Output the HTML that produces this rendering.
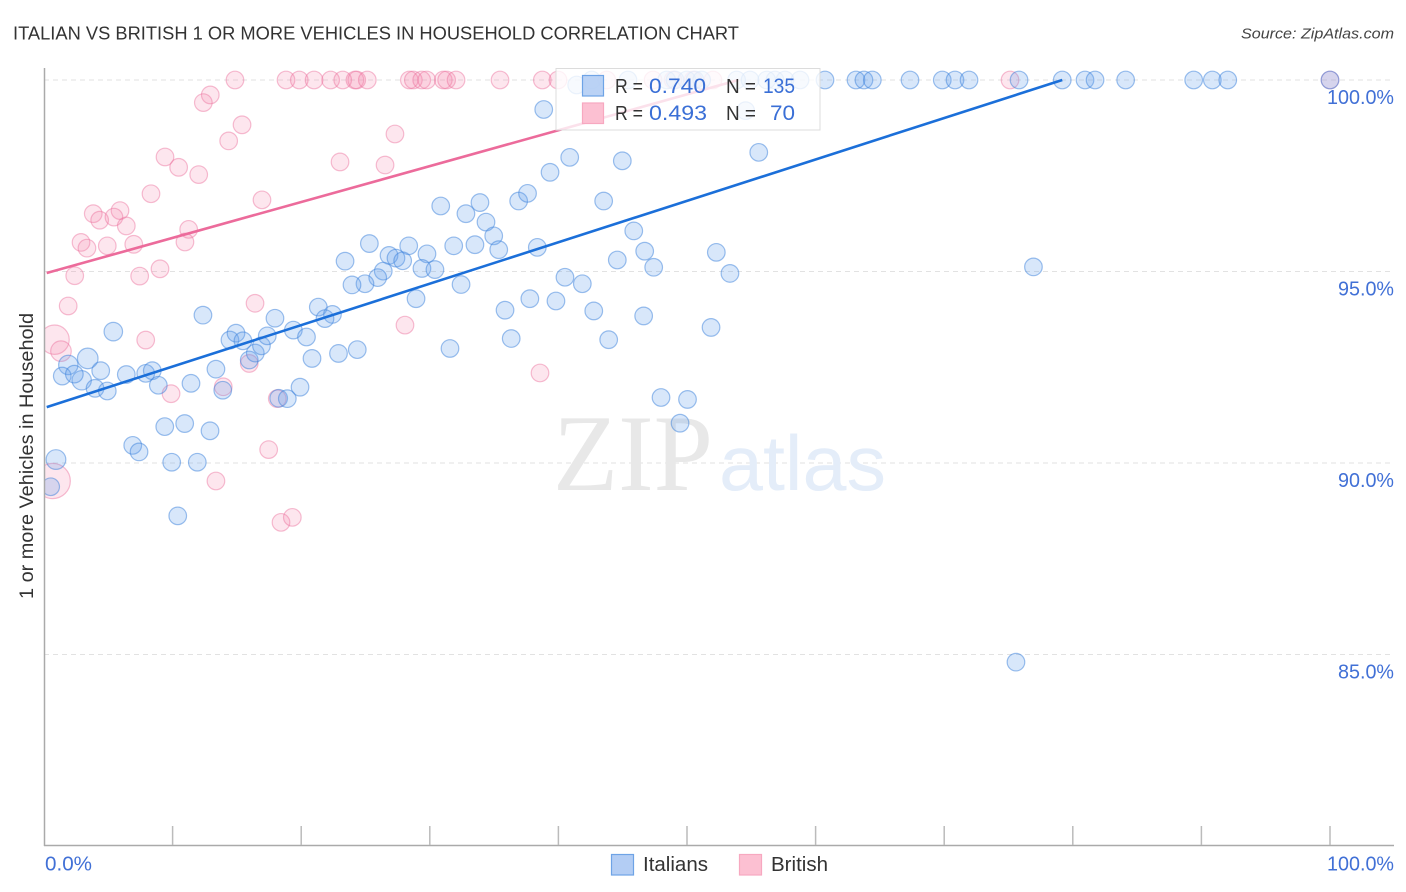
<!DOCTYPE html>
<html>
<head>
<meta charset="utf-8">
<title>Italian vs British 1 or more Vehicles in Household Correlation Chart</title>
<style>
html,body{margin:0;padding:0;background:#fff;}
svg{display:block;font-family:"Liberation Sans",sans-serif;}
</style>
</head>
<body>
<svg id="chart" xmlns="http://www.w3.org/2000/svg" width="1406" height="892" viewBox="0 0 1406 892">
  <defs>
    <clipPath id="plot-clip"><rect x="45" y="60" width="1355" height="786"/></clipPath>
  </defs>
  <text x="13" y="39.5" font-size="18" fill="#333" textLength="726" lengthAdjust="spacingAndGlyphs">ITALIAN VS BRITISH 1 OR MORE VEHICLES IN HOUSEHOLD CORRELATION CHART</text>
  <text x="1241" y="38.5" font-size="15" font-style="italic" fill="#444" textLength="153" lengthAdjust="spacingAndGlyphs">Source: ZipAtlas.com</text>
  <text transform="translate(33,456) rotate(-90)" text-anchor="middle" font-size="19" fill="#333" textLength="286" lengthAdjust="spacingAndGlyphs">1 or more Vehicles in Household</text>

  <g id="grid"></g>

  <g>
    <text x="553" y="490" font-family="'Liberation Serif',serif" font-size="109" fill="#e8e8e8" textLength="160" lengthAdjust="spacingAndGlyphs">ZIP</text>
    <text x="719" y="490" font-size="78" fill="#e4edf9" textLength="167" lengthAdjust="spacingAndGlyphs">atlas</text>
  </g>

  <g id="points" clip-path="url(#plot-clip)"></g>
  <g id="trends"></g>
  <g id="axes"></g>

  <g>
    <rect x="556" y="68.5" width="264" height="61.5" fill="#fff" fill-opacity="0.8" stroke="#dcdcdc" stroke-width="1"/>
    <rect x="582.5" y="75.5" width="21" height="20.5" fill="#b3cdf4" fill-opacity="0.9" stroke="#6ea3e6" stroke-width="1.2"/>
    <rect x="582.5" y="103" width="21" height="20.5" fill="#fcc0d2" stroke="#f7a8c0" stroke-width="1.2"/>
    <text x="615" y="93" font-size="20" fill="#333" textLength="28" lengthAdjust="spacingAndGlyphs">R =</text>
    <text x="649" y="93" font-size="21" fill="#3a6fd6" textLength="57" lengthAdjust="spacingAndGlyphs">0.740</text>
    <text x="726" y="93" font-size="20" fill="#333" textLength="30" lengthAdjust="spacingAndGlyphs">N =</text>
    <text x="763" y="93" font-size="21" fill="#3a6fd6" textLength="32" lengthAdjust="spacingAndGlyphs">135</text>
    <text x="615" y="120" font-size="20" fill="#333" textLength="28" lengthAdjust="spacingAndGlyphs">R =</text>
    <text x="649" y="120" font-size="21" fill="#3a6fd6" textLength="58" lengthAdjust="spacingAndGlyphs">0.493</text>
    <text x="726" y="120" font-size="20" fill="#333" textLength="30" lengthAdjust="spacingAndGlyphs">N =</text>
    <text x="770" y="120" font-size="21" fill="#3a6fd6" textLength="25" lengthAdjust="spacingAndGlyphs">70</text>
  </g>

  <g>
    <rect x="611.5" y="854.5" width="22" height="20.5" fill="#b3cdf4" stroke="#6ea3e6" stroke-width="1.2"/>
    <text x="643" y="871" font-size="20" fill="#333" textLength="65" lengthAdjust="spacingAndGlyphs">Italians</text>
    <rect x="739.5" y="854.5" width="22" height="20.5" fill="#fcc0d2" stroke="#f7a8c0" stroke-width="1.2"/>
    <text x="771" y="871" font-size="20" fill="#333" textLength="57" lengthAdjust="spacingAndGlyphs">British</text>
  </g>
</svg>

<script>
const xTickValues = [0, 10, 20, 30, 40, 50, 60, 70, 80, 90, 100];
const xTickLabelValues = [0, 100];
const yTickValues = [85, 90, 95, 100];

const italianX = [1.89,3.40,2.93,0.93,5.39,12.36,1.42,2.36,4.41,3.97,4.92,6.40,7.91,8.42,8.89,11.43,13.37,13.90,14.46,14.93,15.47,15.96,16.43,16.91,17.36,17.96,19.39,20.41,19.91,18.25,18.92,20.84,9.39,10.94,12.91,6.90,7.39,9.93,11.92,10.40,0.52,30.85,32.81,33.90,34.37,34.97,35.36,33.51,31.86,29.78,28.36,25.30,23.41,26.83,27.37,27.89,26.38,25.95,24.96,23.95,29.39,30.40,32.43,28.93,21.33,22.43,21.85,22.90,24.36,31.57,35.85,37.78,39.81,40.51,38.36,36.91,37.60,36.33,38.86,40.88,39.35,44.97,43.52,55.58,45.86,46.71,44.58,47.41,52.28,53.34,41.86,42.75,43.91,46.63,51.87,54.56,76.94,75.58,47.98,50.04,49.46,41.42,42.59,45.41,48.42,49.07,49.98,50.62,51.14,53.86,54.90,56.20,56.84,57.62,58.79,60.73,63.14,63.76,64.41,67.34,69.85,70.84,71.93,75.82,79.18,80.95,81.73,84.11,89.40,90.85,92.05,100];
const italianY = [92.56,92.73,92.16,90.09,93.43,93.86,92.27,92.32,92.41,91.95,91.88,92.31,92.34,92.41,92.03,92.08,92.45,91.90,93.21,93.39,93.19,92.69,92.87,93.06,93.32,93.78,93.47,93.29,91.98,91.69,91.68,92.73,90.95,91.03,90.84,90.46,90.29,90.02,90.02,88.62,89.38,96.71,96.51,96.80,96.29,95.93,95.57,95.70,95.67,95.46,95.67,95.73,95.27,95.42,95.35,95.28,95.01,94.84,94.68,94.65,95.08,95.05,94.66,94.29,94.07,93.88,93.77,92.86,92.96,92.99,93.99,94.29,94.23,94.85,95.63,96.84,97.04,93.25,99.23,97.98,97.59,97.89,96.84,98.11,96.06,95.53,95.30,95.11,95.50,94.95,94.68,93.97,93.22,93.84,93.54,99.20,95.12,84.80,91.71,91.66,91.04,99.87,100,100,100,100,100,100,100,100,100,100,100,100,100,100,100,100,100,100,100,100,100,100,100,100,100,100,100,100,100,100];
const italianWeight = [1.1,1.17,1.1,1.12,1.05];

const britishX = [0.82,1.32,0.68,12.93,12.39,15.40,14.36,9.41,10.47,12.03,8.32,16.95,5.91,3.83,4.33,5.44,6.40,11.25,10.96,2.88,3.34,4.92,6.98,2.39,7.44,9.02,1.88,16.41,27.29,23.02,26.52,28.07,38.57,7.91,9.88,13.94,15.96,18.14,17.47,13.37,18.43,19.31,14.85,18.82,19.85,21.00,22.29,23.23,24.18,24.32,25.14,28.41,28.72,29.37,29.76,31.05,31.31,32.04,35.46,38.75,39.97,43.76,47.36,48.91,50.47,52.02,75.12,100];
const britishY = [93.22,92.92,89.53,99.61,99.41,98.83,98.41,97.99,97.72,97.53,97.03,96.87,96.59,96.51,96.34,96.42,96.19,96.10,95.77,95.76,95.61,95.67,95.71,94.89,94.88,95.07,94.10,94.17,98.59,97.86,97.78,93.60,92.35,93.21,91.81,91.99,92.60,91.68,90.35,89.53,88.45,88.58,100,100,100,100,100,100,100,100,100,100,100,100,100,100,100,100,100,100,100,100,100,100,100,100,100,100];
const britishWeight = [1.67,1.17,2.0];

const italianTrendX = [0.21, 79.18];
const italianTrendY = [91.46, 100];
const britishTrendX = [0.21, 54.0];
const britishTrendY = [94.96, 100];

const SVG_NS = 'http://www.w3.org/2000/svg';
function xScale(v) { return 44 + v * 12.86; }
function yScale(v) { return 80 + (100 - v) * 38.3; }
function make(tag, attrs, parent) {
  const el = document.createElementNS(SVG_NS, tag);
  for (const k in attrs) el.setAttribute(k, attrs[k]);
  parent.appendChild(el);
  return el;
}

const gridGroup = document.getElementById('grid');
const axesGroup = document.getElementById('axes');
const pointsGroup = document.getElementById('points');
const trendsGroup = document.getElementById('trends');

yTickValues.forEach(function (v) {
  const line = make('line', {x1: 44, x2: 1394, y1: yScale(v), y2: yScale(v), stroke: '#e2e2e2', 'stroke-width': 1, 'stroke-dasharray': '5 4'}, gridGroup);
  
  
  const label = make('text', {x: 1394, y: yScale(v) + 24, 'text-anchor': 'end', 'font-size': 20, fill: '#4170d6', textLength: v === 100 ? 67 : 56, lengthAdjust: 'spacingAndGlyphs'}, axesGroup);
  label.textContent = v.toFixed(1) + '%';
  
  
});

const yAxisLine = make('line', {x1: 44.5, x2: 44.5, y1: 68, y2: 846, stroke: '#aaa', 'stroke-width': 1.5}, axesGroup);


const xAxisLine = make('line', {x1: 44, x2: 1394, y1: 845.5, y2: 845.5, stroke: '#aaa', 'stroke-width': 1.5}, axesGroup);



xTickValues.forEach(function (v) {
  if (v === 0) return;
  const tick = make('line', {x1: xScale(v), x2: xScale(v), y1: 826, y2: 845, stroke: '#bbb', 'stroke-width': 1.5}, axesGroup);
  
  
});

xTickLabelValues.forEach(function (v) {
  const first = v === 0;
  const label = make('text', {x: first ? 45 : 1394, y: 870.5, 'text-anchor': first ? 'start' : 'end', 'font-size': 20, fill: '#4170d6', textLength: first ? 47 : 67, lengthAdjust: 'spacingAndGlyphs'}, axesGroup);
  label.textContent = v.toFixed(1) + '%';
  
  
});

function drawSeries(xs, ys, weights, fill, stroke, name) {
  xs.forEach(function (xv, i) {
    const w = i < weights.length ? weights[i] : 1;
    const dot = make('circle', {cx: xScale(xv), cy: yScale(ys[i]), r: 8.8 * w, fill: fill, stroke: stroke, 'stroke-width': 1.2}, pointsGroup);
    
    
  });
}
drawSeries(britishX, britishY, britishWeight, 'rgba(244,130,170,0.2)', 'rgba(236,110,155,0.45)', 'british');
drawSeries(italianX, italianY, italianWeight, 'rgba(100,160,235,0.25)', 'rgba(60,130,220,0.5)', 'italian');

const britishTrend = make('line', {x1: xScale(britishTrendX[0]), y1: yScale(britishTrendY[0]), x2: xScale(britishTrendX[1]), y2: yScale(britishTrendY[1]), stroke: '#ec6b9b', 'stroke-width': 2.6}, trendsGroup);


const italianTrend = make('line', {x1: xScale(italianTrendX[0]), y1: yScale(italianTrendY[0]), x2: xScale(italianTrendX[1]), y2: yScale(italianTrendY[1]), stroke: '#1b6fd9', 'stroke-width': 2.6}, trendsGroup);


</script>
</body>
</html>
